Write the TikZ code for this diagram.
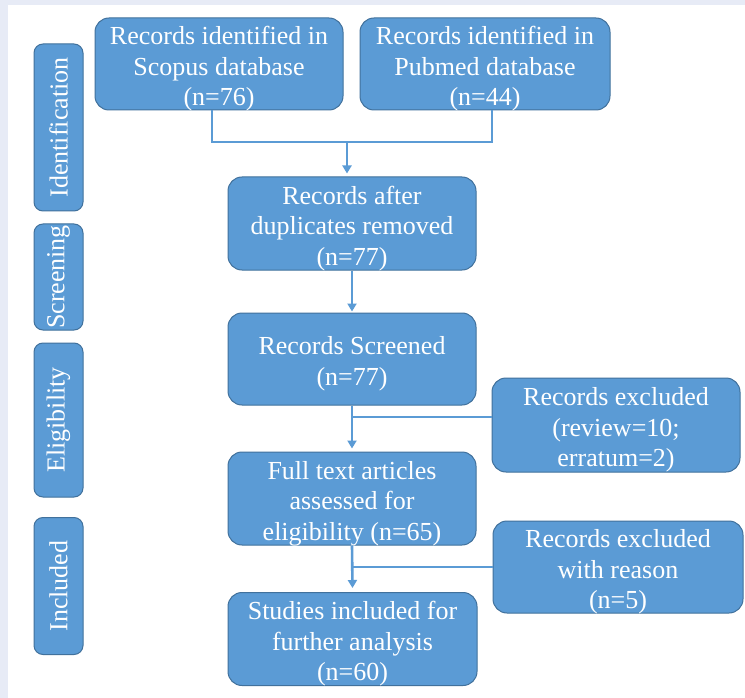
\documentclass[tikz,border=0pt]{standalone}
\usepackage{fontspec}
\setmainfont{Liberation Serif}
\usetikzlibrary{arrows.meta}
\definecolor{boxfill}{HTML}{5B9BD5}
\definecolor{boxline}{HTML}{41719C}
\definecolor{bgstrip}{HTML}{E7EBF6}
\newcommand\boxtext[1]{\raisebox{-5pt}[\height][\depth]{\begin{tabular}{@{}c@{}}#1\end{tabular}}}
\begin{document}
\begin{tikzpicture}[x=1pt,y=-1pt,
  box/.style={draw=boxline, line width=1pt, fill=boxfill, rounded corners=14pt, text=white, align=center, font=\fontsize{26}{30.5}\selectfont, inner sep=0pt},
  side/.style={draw=boxline, line width=1pt, fill=boxfill, rounded corners=9pt, text=white, font=\fontsize{26}{30}\selectfont, inner sep=0pt, minimum height=49pt, rotate=90},
  conn/.style={draw=boxfill, line width=2.6pt},
  arr/.style={conn, -{Triangle[width=9pt,length=8pt]}}]
\useasboundingbox (0,0) rectangle (745,698);
\fill[bgstrip] (0,0) rectangle (745,698);
\fill[white] (8,5) rectangle (745,698);
% side labels
\node[side, minimum width=167pt] (ident) at (58.5,127.5) {Identification};
\node[side, minimum width=106pt] (screen) at (58.5,277) {Screening};
\node[side, minimum width=154pt] (elig) at (58.5,420) {Eligibility};
\node[side, minimum width=137pt] (incl) at (58.5,586) {Included};
% main boxes
\node[box, minimum width=248pt, minimum height=92pt] (scopus) at (219,64) {\boxtext{Records identified in\\Scopus database\\(n=76)}};
\node[box, minimum width=250pt, minimum height=92pt] (pubmed) at (485,64) {\boxtext{Records identified in\\Pubmed database\\(n=44)}};
\node[box, minimum width=248pt, minimum height=93pt] (dup) at (352,223.5) {\boxtext{Records after\\duplicates removed\\(n=77)}};
\node[box, minimum width=248pt, minimum height=92pt] (screened) at (352,359) {\boxtext{Records Screened\\(n=77)}};
\node[box, minimum width=248pt, minimum height=93pt] (full) at (352,498.5) {\boxtext{Full text articles\\assessed for\\eligibility (n=65)}};
\node[box, minimum width=249pt, minimum height=93pt] (studies) at (352.5,639) {\boxtext{Studies included for\\further analysis\\(n=60)}};
\node[box, minimum width=248pt, minimum height=94pt] (excl1) at (616,425) {\boxtext{Records excluded\\(review=10;\\erratum=2)}};
\node[box, minimum width=250pt, minimum height=92pt] (excl2) at (618,567) {\boxtext{Records excluded\\with reason\\(n=5)}};
% connectors
\coordinate (m1) at (347,142);
\draw[conn] ([xshift=-7pt]scopus.south) |- (m1) -| ([xshift=7pt]pubmed.south);
\draw[arr] (m1) -- ([xshift=-5pt,yshift=3pt]dup.north);
\draw[arr] (dup.south) -- ([yshift=1pt]screened.north);
\draw[arr] (screened.south) -- ([yshift=3pt]full.north);
\draw[conn] ([yshift=8pt]excl1.west) -- ([yshift=8pt]excl1.west -| screened.south);
\draw[arr] (full.south) -- ([yshift=4pt]studies.north);
\draw[conn] (excl2.west) -- (excl2.west -| full.south);
\end{tikzpicture}
\end{document}
